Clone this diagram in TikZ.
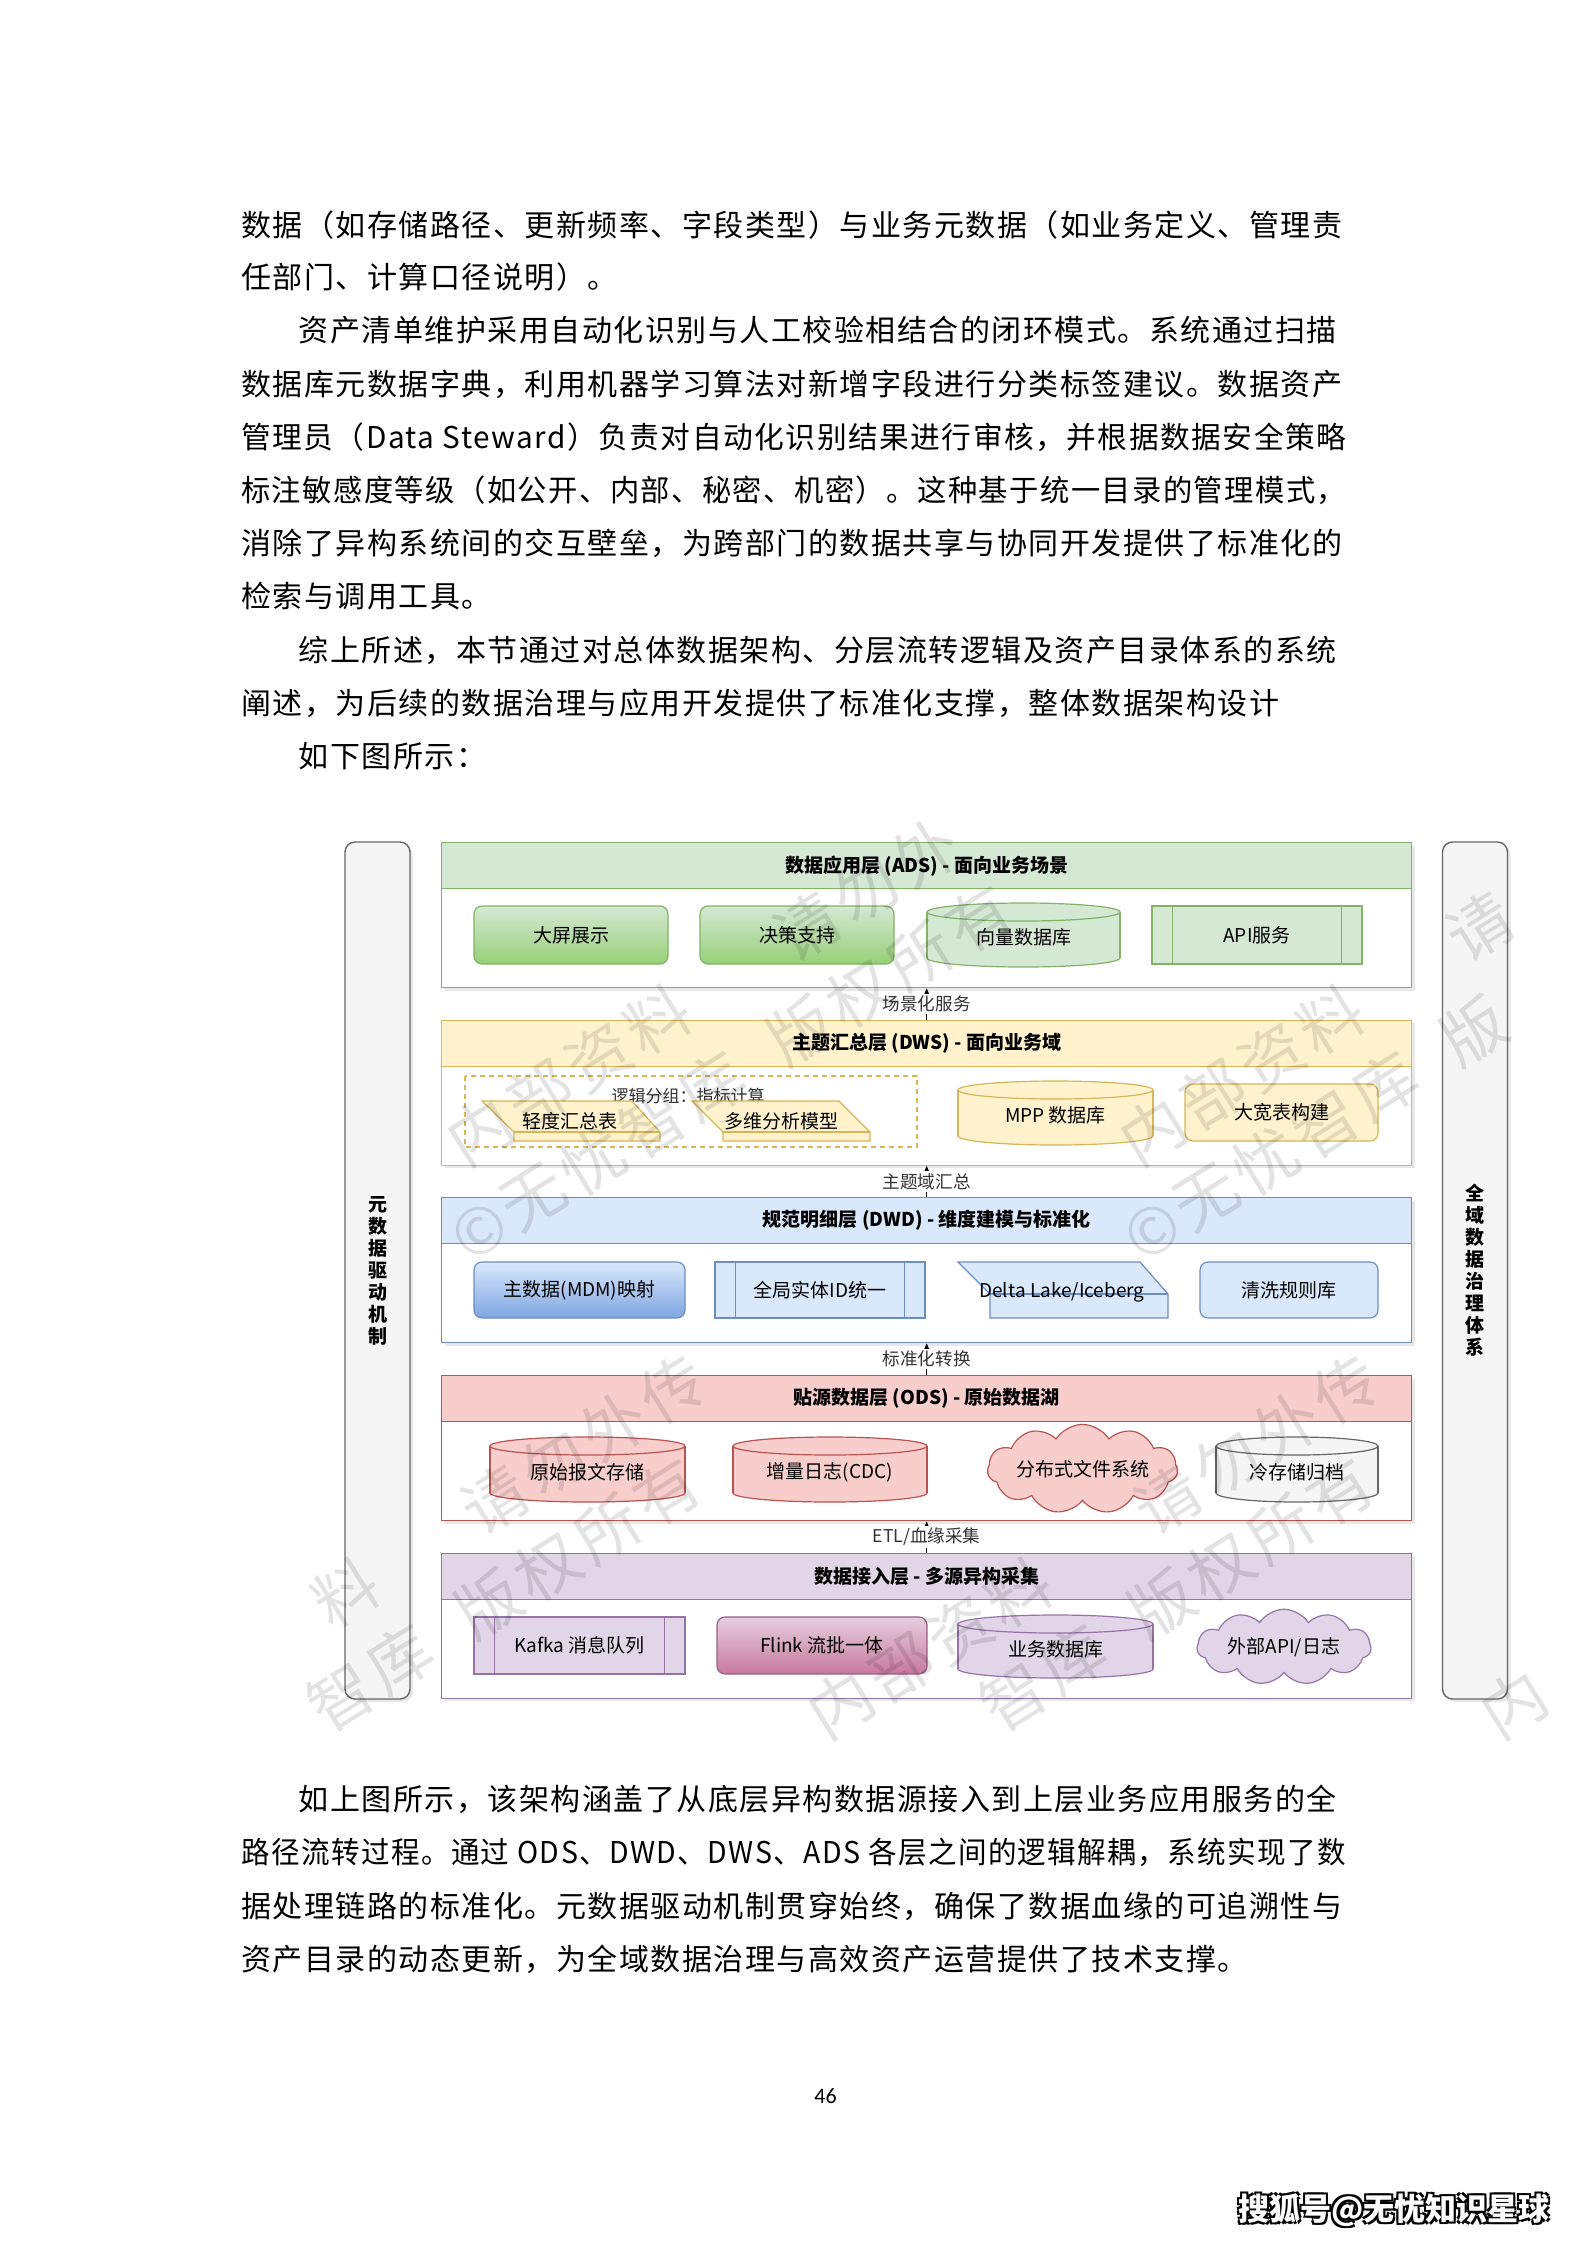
\documentclass[tikz,border=0pt]{standalone}
\usepackage{fontspec}
\usepackage{graphicx}
\setmainfont{Noto Sans CJK SC}
\newfontfamily\bodyfont[LetterSpace=5]{Noto Sans CJK SC}
\newfontfamily\dfont{Noto Sans CJK SC}
\newfontfamily\numfont{Carlito}
\usetikzlibrary{shapes.symbols,shadows,arrows.meta}
\XeTeXlinebreaklocale "zh"
\XeTeXlinebreakskip=0pt plus 2pt minus 0.5pt
\definecolor{adsF}{HTML}{D5E8D4}\definecolor{adsS}{HTML}{82B366}\definecolor{adsG}{HTML}{97D077}
\definecolor{dwsF}{HTML}{FFF2CC}\definecolor{dwsS}{HTML}{D6B656}
\definecolor{dwdF}{HTML}{DAE8FC}\definecolor{dwdS}{HTML}{6C8EBF}\definecolor{dwdG}{HTML}{7EA6E0}
\definecolor{odsF}{HTML}{F8CECC}\definecolor{odsS}{HTML}{B85450}
\definecolor{accF}{HTML}{E1D5E7}\definecolor{accS}{HTML}{9673A6}
\definecolor{flkF}{HTML}{E6D0DE}\definecolor{flkG}{HTML}{C7789F}\definecolor{flkS}{HTML}{996185}
\definecolor{barF}{HTML}{F5F5F5}\definecolor{barS}{HTML}{666666}
\definecolor{lbl}{HTML}{333333}
\tikzset{
 dlabel/.style={font=\dfont\fontsize{9.5pt}{11pt}\selectfont, text=black},
 softshadow/.style={drop shadow={shadow xshift=1.5pt, shadow yshift=-1.5pt, opacity=0.18}},
 layerbody/.style={line width=0.7pt, fill=white, minimum width=485pt, minimum height=72.5pt, anchor=north west, inner sep=0pt, softshadow},
 layerhead/.style={line width=0.7pt, minimum width=485pt, minimum height=23pt, anchor=north west, inner sep=0pt, font=\dfont\bfseries\fontsize{9.5pt}{11pt}\selectfont},
 rbox/.style={dlabel, rounded corners=4pt, line width=0.6pt, inner sep=0pt},
 pbox/.style={dlabel, line width=0.6pt, inner sep=0pt},
 flowarrow/.style={line width=0.5pt, -{Stealth[length=3.5pt,width=3pt]}},
 flowlabel/.style={fill=white, inner sep=1pt, font=\dfont\fontsize{8.8pt}{10pt}\selectfont, text=lbl},
 sidebar/.style={draw=barS, fill=barF, rounded corners=5pt, line width=0.7pt, minimum width=32.5pt, minimum height=428.5pt, inner sep=0pt, align=center, font=\dfont\bfseries\fontsize{9.5pt}{11pt}\selectfont, softshadow},
 bodyline/.style={anchor=west, inner sep=0pt, font=\bodyfont\fontsize{15pt}{15pt}\selectfont, text height=13.2pt, text depth=1.8pt},
 wm/.style={font=\dfont\fontsize{32pt}{32pt}\selectfont, text=black, opacity=0.11, rotate=32, inner sep=0pt},
 shad/.style={font=\dfont\bfseries\fontsize{15.5pt}{16pt}\selectfont, text=black, inner sep=0pt},
}
\newcommand\procbox[8]{%
 \node[pbox, draw=#7, fill=#6, minimum width=#4, minimum height=#5] (#1) at (#2,#3) {#8};
 \draw[#7, line width=0.6pt] ([xshift=10.5pt]#1.north west) -- ([xshift=10.5pt]#1.south west)
   ([xshift=-10.5pt]#1.north east) -- ([xshift=-10.5pt]#1.south east);}
\newcommand\cylbox[8]{%
 \fill[#6] (#2,#3+9) rectangle (#4,#5-9);
 \filldraw[fill=#6, draw=#7, line width=0.6pt] ({(#2+#4)/2},#5-9) ellipse [x radius={(#4-#2)/2}, y radius=9];
 \fill[#6] (#2,#3+9) rectangle (#4,#5-9);
 \draw[#7, line width=0.6pt] (#2,#3+9) -- (#2,#5-9) (#4,#3+9) -- (#4,#5-9);
 \filldraw[fill=#6, draw=#7, line width=0.6pt] ({(#2+#4)/2},#3+9) ellipse [x radius={(#4-#2)/2}, y radius=9];
 \node[dlabel, inner sep=0pt] (#1) at ({(#2+#4)/2},{(#3+#5)/2+2.5}) {#8};}
\begin{document}
\begin{tikzpicture}[x=0.5pt,y=-0.5pt]
\useasboundingbox (0,0) rectangle (1587,2245);
\fill[white] (0,0) rectangle (1587,2245);

% ---------- body text above ----------
\node[bodyline] (t1) at (240.8,225) {\hbox to 552.5pt{数据（如存储路径、更新频率、字段类型）与业务元数据（如业务定义、管理责}};
\node[bodyline] (t2) at (240.8,277) {任部门、计算口径说明）。};
\node[bodyline] (t3) at (298.5,330) {\hbox to 524.2pt{资产清单维护采用自动化识别与人工校验相结合的闭环模式。系统通过扫描}};
\node[bodyline] (t4) at (240.8,384) {\hbox to 552.5pt{数据库元数据字典，利用机器学习算法对新增字段进行分类标签建议。数据资产}};
\node[bodyline] (t5) at (240.8,437) {\resizebox{552.5pt}{\height}{管理员（Data Steward）负责对自动化识别结果进行审核，并根据数据安全策略}};
\node[bodyline] (t6) at (240.8,490) {\resizebox{552.5pt}{\height}{标注敏感度等级（如公开、内部、秘密、机密）。这种基于统一目录的管理模式，}};
\node[bodyline] (t7) at (240.8,543) {\hbox to 552.5pt{消除了异构系统间的交互壁垒，为跨部门的数据共享与协同开发提供了标准化的}};
\node[bodyline] (t8) at (240.8,596) {检索与调用工具。};
\node[bodyline] (t9) at (298.5,650) {\hbox to 524.2pt{综上所述，本节通过对总体数据架构、分层流转逻辑及资产目录体系的系统}};
\node[bodyline] (t10) at (240.8,703) {阐述，为后续的数据治理与应用开发提供了标准化支撑，整体数据架构设计};
\node[bodyline] (t11) at (298.5,756) {如下图所示：};

% ---------- layers ----------
\node[layerbody, draw=adsS] (ads) at (441,842) {};
\node[layerhead, draw=adsS, fill=adsF] (adsh) at (441,842) {数据应用层 (ADS) - 面向业务场景};
\node[layerbody, draw=dwsS] (dws) at (441,1019.5) {};
\node[layerhead, draw=dwsS, fill=dwsF] (dwsh) at (441,1019.5) {主题汇总层 (DWS) - 面向业务域};
\node[layerbody, draw=dwdS] (dwd) at (441,1197) {};
\node[layerhead, draw=dwdS, fill=dwdF] (dwdh) at (441,1197) {规范明细层 (DWD) - 维度建模与标准化};
\node[layerbody, draw=odsS] (ods) at (441,1375) {};
\node[layerhead, draw=odsS, fill=odsF] (odsh) at (441,1375) {贴源数据层 (ODS) - 原始数据湖};
\node[layerbody, draw=accS] (acc) at (441,1552.5) {};
\node[layerhead, draw=accS, fill=accF] (acch) at (441,1552.5) {数据接入层 - 多源异构采集};

% ---------- ADS content ----------
\node[rbox, draw=adsS, top color=adsF, bottom color=adsG, minimum width=97pt, minimum height=29pt] (dp) at (571,935) {大屏展示};
\node[rbox, draw=adsS, top color=adsF, bottom color=adsG, minimum width=97pt, minimum height=29pt] (jc) at (797,935) {决策支持};
\cylbox{vdb}{927}{903}{1120}{967}{adsF}{adsS}{向量数据库}
\procbox{api}{1257}{935}{105pt}{29pt}{adsF}{adsS}{API服务}

% ---------- DWS content ----------
\draw[dwsS, line width=0.6pt, dash pattern=on 2.5pt off 2pt] (465,1076) rectangle (917,1147);
\node[font=\dfont\fontsize{8.5pt}{10pt}\selectfont, text=lbl, inner sep=0pt] (grp) at (688,1096) {逻辑分组：指标计算};
\filldraw[fill=dwsF, draw=dwsS, line width=0.6pt] (482,1101) -- (632,1101) -- (660,1132) -- (660,1141) -- (514,1141) -- (514,1132) -- cycle;
\draw[dwsS, line width=0.6pt] (514,1132) -- (660,1132);
\node[dlabel, inner sep=0pt] (qd) at (570,1121) {轻度汇总表};
\filldraw[fill=dwsF, draw=dwsS, line width=0.6pt] (692,1101) -- (839,1101) -- (870,1132) -- (870,1141) -- (723,1141) -- (723,1132) -- cycle;
\draw[dwsS, line width=0.6pt] (723,1132) -- (870,1132);
\node[dlabel, inner sep=0pt] (dw) at (781,1121) {多维分析模型};
\cylbox{mpp}{958}{1081}{1153}{1145}{dwsF}{dwsS}{MPP 数据库}
\node[rbox, draw=dwsS, fill=dwsF, minimum width=96.5pt, minimum height=28.5pt] (dkb) at (1281.5,1112.5) {大宽表构建};

% ---------- DWD content ----------
\node[rbox, draw=dwdS, top color=dwdF, bottom color=dwdG, minimum width=105.5pt, minimum height=28pt] (mdm) at (579.5,1290) {主数据(MDM)映射};
\procbox{gid}{820}{1290}{105pt}{28pt}{dwdF}{dwdS}{全局实体ID统一}
\filldraw[fill=dwdF, draw=dwdS, line width=0.6pt] (958,1262) -- (1140,1262) -- (1168,1294) -- (1168,1318) -- (990,1318) -- (990,1294) -- cycle;
\draw[dwdS, line width=0.6pt] (990,1294) -- (1168,1294);
\node[dlabel, inner sep=0pt] (dl) at (1062,1292) {Delta Lake/Iceberg};
\node[rbox, draw=dwdS, fill=dwdF, minimum width=89pt, minimum height=28pt] (qx) at (1289,1290) {清洗规则库};

% ---------- ODS content ----------
\cylbox{ysbw}{490}{1437}{685}{1502}{odsF}{odsS}{原始报文存储}
\cylbox{cdc}{733}{1437}{927}{1502}{odsF}{odsS}{增量日志(CDC)}
\node[cloud, cloud puffs=11, cloud puff arc=115, aspect=3, draw=odsS, fill=odsF, line width=0.6pt, minimum width=94.5pt, minimum height=31pt, inner sep=0pt, dlabel] (fs) at (1082.5,1469) {分布式文件系统};
\cylbox{cold}{1216}{1437}{1378}{1502}{barF}{barS}{冷存储归档}

% ---------- Access content ----------
\procbox{kafka}{579.5}{1645.5}{105.5pt}{28.5pt}{accF}{accS}{Kafka 消息队列}
\node[rbox, draw=flkS, top color=flkF, bottom color=flkG, minimum width=105pt, minimum height=28.5pt] (flink) at (822,1645.5) {Flink 流批一体};
\cylbox{ywdb}{958}{1615}{1153}{1678}{accF}{accS}{业务数据库}
\node[cloud, cloud puffs=11, cloud puff arc=115, aspect=3, draw=accS, fill=accF, line width=0.6pt, minimum width=87pt, minimum height=30pt, inner sep=0pt, dlabel] (ext) at (1284,1647) {外部API/日志};

% ---------- flows ----------
\draw[flowarrow] (dws.north) -- (ads.south) node[flowlabel, midway] (f1) {场景化服务};
\draw[flowarrow] (dwd.north) -- (dws.south) node[flowlabel, midway] (f2) {主题域汇总};
\draw[flowarrow] (ods.north) -- (dwd.south) node[flowlabel, midway] (f3) {标准化转换};
\draw[flowarrow] (acc.north) -- (ods.south) node[flowlabel, midway] (f4) {ETL/血缘采集};

% ---------- side bars ----------
\node[sidebar] (lbar) at (377.5,1270.5) {元\\数\\据\\驱\\动\\机\\制};
\node[sidebar] (rbar) at (1475,1270.5) {全\\域\\数\\据\\治\\理\\体\\系};

% ---------- watermark (one node per character, kept inside the figure) ----------
\foreach \sx/\sy [count=\i] in {-193/1131, 480/1131, 1153/1131, -505/1704, 168/1704, 841/1704, 1514/1704}{
  \foreach \t/\ch [count=\j] in {0/内,1/部,2/资,3/料,5.5/请,6.5/勿,7.5/外,8.5/传}{
    \pgfmathsetmacro\px{\sx+\t*59.4}
    \pgfmathsetmacro\py{\sy-\t*37.1}
    \pgfmathtruncatemacro\ok{(\px>330)&&(\px<1526)&&(\py>832)&&(\py<1722)}
    \ifnum\ok=1 \node[wm] (wa\i x\j) at (\px,\py) {\ch}; \fi
  }
  \foreach \t/\ch [count=\j] in {0/©,0.9/无,1.9/忧,2.9/智,3.9/库,5.4/版,6.4/权,7.4/所,8.4/有}{
    \pgfmathsetmacro\px{\sx+\t*59.4}
    \pgfmathsetmacro\py{\sy+100-\t*37.1}
    \pgfmathtruncatemacro\ok{(\px>330)&&(\px<1526)&&(\py>832)&&(\py<1722)}
    \ifnum\ok=1 \node[wm] (wb\i x\j) at (\px,\py) {\ch}; \fi
  }
}

% ---------- body text below ----------
\node[bodyline] (u1) at (298.5,1799) {\hbox to 524.2pt{如上图所示，该架构涵盖了从底层异构数据源接入到上层业务应用服务的全}};
\node[bodyline] (u2) at (240.8,1852) {\resizebox{552.5pt}{\height}{路径流转过程。通过 ODS、DWD、DWS、ADS 各层之间的逻辑解耦，系统实现了数}};
\node[bodyline] (u3) at (240.8,1906) {\hbox to 552.5pt{据处理链路的标准化。元数据驱动机制贯穿始终，确保了数据血缘的可追溯性与}};
\node[bodyline] (u4) at (240.8,1959) {资产目录的动态更新，为全域数据治理与高效资产运营提供了技术支撑。};

% ---------- page number & credit ----------
\node[font=\numfont\fontsize{11pt}{12pt}\selectfont, inner sep=0pt] (pg) at (825.5,2096) {46};
\node[shad] (s1) at (1392,2212) {搜狐号@无忧知识星球};
\node[shad] (s2) at (1396,2208) {搜狐号@无忧知识星球};
\node[shad] (s3) at (1392,2208) {搜狐号@无忧知识星球};
\node[shad] (s4) at (1396,2212) {搜狐号@无忧知识星球};
\node[shad, text=white] (s0) at (1394,2210) {搜狐号@无忧知识星球};
\end{tikzpicture}
\end{document}
